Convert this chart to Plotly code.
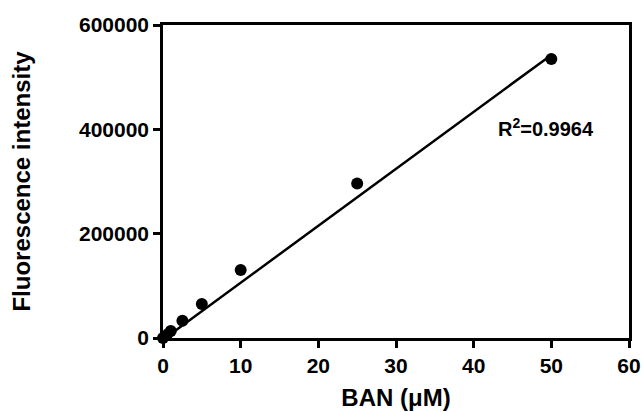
import numpy as np
import plotly.graph_objects as go

# Data
conc_uM = [0, 0.5, 1, 2.5, 5, 10, 25, 50]
fluorescence = [0, 6000, 13500, 33000, 65000, 130500, 296000, 535000]
fit_slope = 10920
fit_intercept = -3300
r_squared = "0.9964"
x_ticks = [0, 10, 20, 30, 40, 50, 60]
y_ticks = [0, 200000, 400000, 600000]

fit_x = np.array([min(conc_uM), max(conc_uM)])
fit_y = fit_slope * fit_x + fit_intercept

font_family = "Liberation Sans, Arial, sans-serif"
tick_font = dict(family=font_family, size=21, color="black", weight="bold")
title_font = dict(family=font_family, size=24, color="black", weight="bold")

fig = go.Figure()
fig.add_trace(go.Scatter(x=fit_x, y=fit_y, mode="lines",
                         line=dict(color="black", width=2.5),
                         showlegend=False, cliponaxis=False))
fig.add_trace(go.Scatter(x=conc_uM, y=fluorescence, mode="markers",
                         marker=dict(color="black", size=12),
                         showlegend=False, cliponaxis=False))

fig.add_annotation(x=49.3, y=404000, xref="x", yref="y",
                   text="R<sup>2</sup>=" + r_squared, showarrow=False,
                   font=dict(family=font_family, size=20, color="black", weight="bold"))

axis_common = dict(showgrid=False, zeroline=False, showline=True, linecolor="black",
                   linewidth=2.5, mirror=True, ticks="outside", ticklen=7, tickwidth=2.5,
                   tickcolor="black", tickfont=tick_font)

fig.update_xaxes(range=[0, 60], tickvals=x_ticks, ticktext=[str(v) for v in x_ticks],
                 title=dict(text="BAN (μM)", font=title_font, standoff=14),
                 **axis_common)
fig.update_yaxes(range=[0, 600000], tickvals=y_ticks, ticktext=[str(v) for v in y_ticks],
                 title=dict(text="Fluorescence intensity", font=title_font, standoff=42),
                 **axis_common)

fig.update_layout(width=642, height=412, margin=dict(l=163, r=13, t=25, b=74, autoexpand=False),
                  plot_bgcolor="white", paper_bgcolor="white",
                  font=dict(family=font_family, color="black"))

fig.write_html("out.html", config={"displayModeBar": False},
               post_script="document.body.style.margin='0';document.body.style.overflow='hidden';")
